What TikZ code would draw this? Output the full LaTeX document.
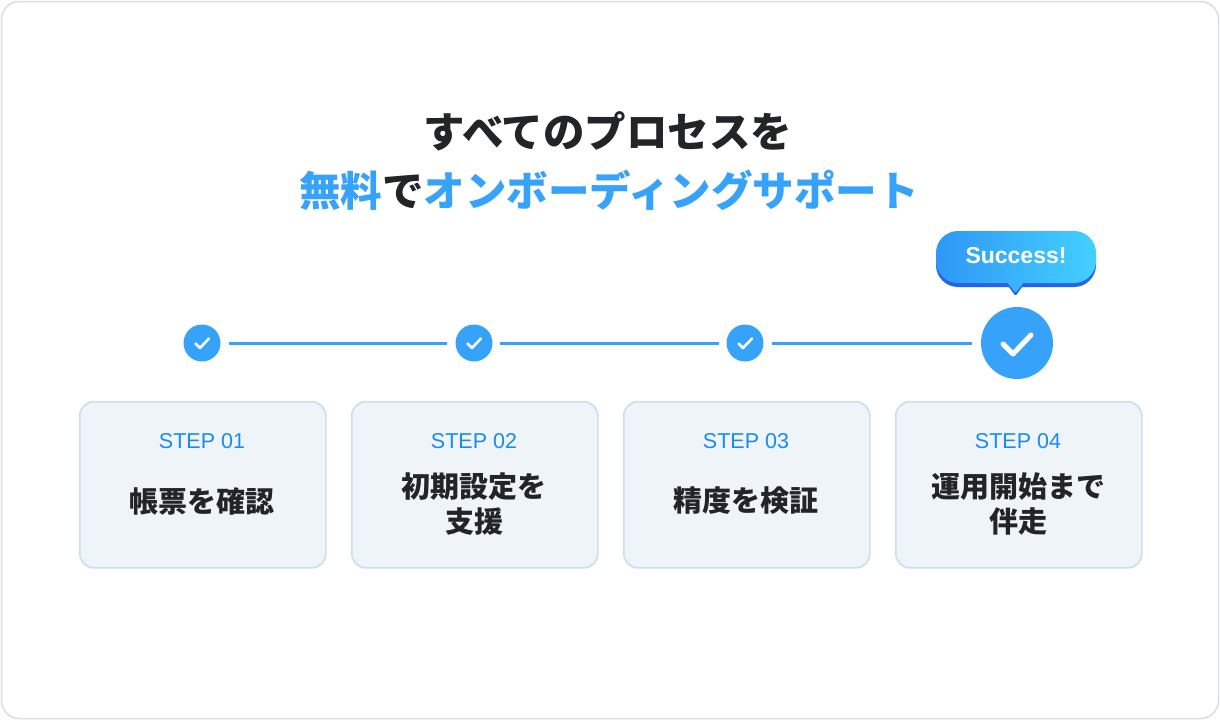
\documentclass[tikz,border=0pt]{standalone}
\usepackage{fontspec}
\setmainfont{Liberation Sans}
\newfontfamily\jp{Noto Sans CJK JP}
\newfontfamily\lat{Liberation Sans}
\usetikzlibrary{shadings}
\definecolor{frame}{HTML}{DADDE2}
\definecolor{ink}{HTML}{222428}
\definecolor{blue}{HTML}{36A2FA}
\definecolor{stepblue}{HTML}{1A8CEE}
\definecolor{boxfill}{HTML}{EFF4F9}
\definecolor{boxline}{HTML}{C9DDF3}
\definecolor{gradA}{HTML}{2E98F5}
\definecolor{gradB}{HTML}{43D0FF}
\definecolor{shadowblue}{HTML}{2563EB}
\tikzset{
  stepbox/.style={draw=boxline, line width=1.6pt, fill=boxfill, rounded corners=14pt, minimum width=246pt, minimum height=166pt, anchor=north west, inner sep=0pt},
  steplabel/.style={text=stepblue, font=\lat\fontsize{21.5}{24}\selectfont},
  stepname/.style={text=ink, font=\jp\bfseries\fontsize{29}{35}\selectfont, align=center},
  smallcheck/.style={circle, fill=blue, minimum size=37pt, inner sep=0pt},
  bigcheck/.style={circle, fill=blue, minimum size=72pt, inner sep=0pt},
  tick/.style={draw=white, line cap=round, line join=round},
  linkline/.style={draw=blue, line width=3pt},
}
\begin{document}
\begin{tikzpicture}[x=1pt,y=-1pt]
\useasboundingbox (0,0) rectangle (1220,720);
\fill[white] (0,0) rectangle (1220,720);
\draw[frame, line width=1.5pt, fill=white, rounded corners=18pt] (1.5,1.5) rectangle (1218.5,718.5);

% title
\node[text=ink, font=\jp\bfseries\fontsize{41.5}{44}\selectfont] (t1) at (608,131) {すべてのプロセスを};
\node[font=\jp\bfseries\fontsize{41.5}{44}\selectfont] (t2) at (609,190) {\textcolor{blue}{無料}\textcolor{ink}{で}\textcolor{blue}{オンボーディングサポート}};

% check circles
\node[smallcheck] (c1) at (202,343) {};
\node[smallcheck] (c2) at (474,343) {};
\node[smallcheck] (c3) at (745,343) {};
\node[bigcheck] (c4) at (1017,343) {};
\foreach \c in {c1,c2,c3}{
  \draw[tick, line width=2.6pt] ([shift={(-6.5,0.5)}]\c.center) -- ([shift={(-2,5)}]\c.center) -- ([shift={(7,-4.5)}]\c.center);
}
\draw[tick, line width=5pt] ([shift={(-14,1)}]c4.center) -- ([shift={(-4,11)}]c4.center) -- ([shift={(14,-8)}]c4.center);

% connectors
\coordinate (l1a) at (229,343); \coordinate (l1b) at (447,343);
\coordinate (l2a) at (500,343); \coordinate (l2b) at (719,343);
\coordinate (l3a) at (772,343); \coordinate (l3b) at (972,343);
\draw[linkline] (l1a) -- (l1b);
\draw[linkline] (l2a) -- (l2b);
\draw[linkline] (l3a) -- (l3b);

% bubble
\fill[shadowblue, rounded corners=22pt] (936,234) rectangle (1096,287);
\fill[shadowblue, rounded corners=1.5pt] (1006,283) -- (1025,283) -- (1015.5,296) -- cycle;
\shade[left color=gradA, right color=gradB, rounded corners=22pt] (936,231) rectangle (1096,283);
\shade[left color=gradA!55!gradB, right color=gradA!45!gradB, rounded corners=1.5pt] (1006,281) -- (1025,281) -- (1015.5,293) -- cycle;
\node[text=white, font=\lat\bfseries\fontsize{23}{26}\selectfont] (succ) at (1016,256) {Success!};

% step boxes
\node[stepbox] (b1) at (79,401) {};
\node[stepbox] (b2) at (351,401) {};
\node[stepbox] (b3) at (623,401) {};
\node[stepbox] (b4) at (895,401) {};

\node[steplabel] (s1) at (202,441) {STEP 01};
\node[steplabel] (s2) at (474,441) {STEP 02};
\node[steplabel] (s3) at (746,441) {STEP 03};
\node[steplabel] (s4) at (1018,441) {STEP 04};

\node[stepname] (n1) at (202,501) {帳票を確認};
\node[stepname] (n2) at (474,504) {初期設定を\\支援};
\node[stepname] (n3) at (746,501) {精度を検証};
\node[stepname] (n4) at (1018,504) {運用開始まで\\伴走};
\end{tikzpicture}
\end{document}
